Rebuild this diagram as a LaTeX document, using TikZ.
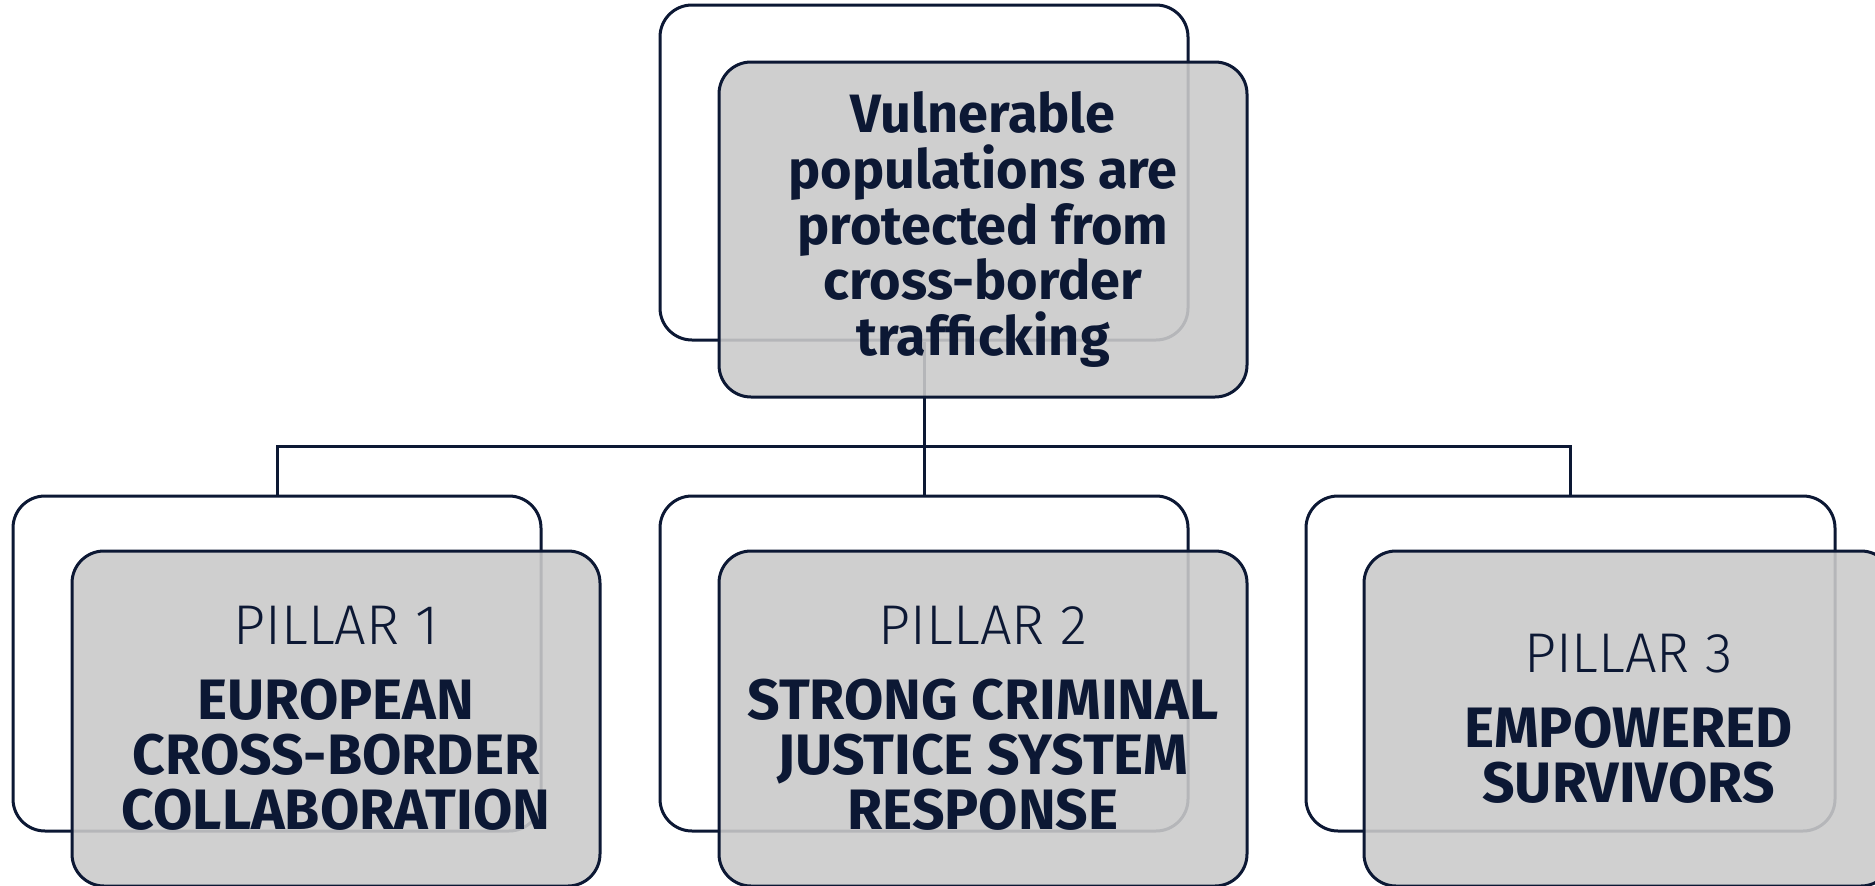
\documentclass[tikz,border=0pt]{standalone}
\usepackage{fontspec}
\setmainfont{Fira Sans}
\newfontfamily\lightfont{Fira Sans Light}
\definecolor{navy}{RGB}{12,24,52}
\definecolor{boxgrey}{RGB}{202,202,202}
\begin{document}
\begin{tikzpicture}[x=1pt,y=-1pt,
  backbox/.style={draw=navy, line width=3pt, rounded corners=32pt, fill=white,
    minimum width=528pt, minimum height=335pt, inner sep=0pt},
  frontbox/.style={draw=navy, line width=3pt, rounded corners=32pt, fill=boxgrey, fill opacity=0.89,
    text opacity=1, minimum width=528pt, minimum height=335pt, inner sep=0pt,
    align=center, text=navy, font=\fontsize{57}{55}\selectfont\bfseries},
  conn/.style={draw=navy, line width=3pt}
]
\newcommand\pillarlabel[1]{\fontsize{56}{55}\selectfont\mdseries\lightfont #1}
\useasboundingbox (0,0) rectangle (1875,886);
% back boxes
\node[backbox] (tback) at (924,172.5) {};
\node[backbox] (p1back) at (277,663.5) {};
\node[backbox] (p2back) at (924,663.5) {};
\node[backbox, minimum width=529pt] (p3back) at (1570.5,663.5) {};
% connectors
\coordinate (hl) at (0,446);
\draw[conn] (tback.south) -- (p2back.north);
\draw[conn] (p1back.north) |- (p3back.north |- hl) -- (p3back.north);
% front boxes
\node[frontbox, font=\fontsize{54}{55.6}\selectfont\bfseries] (tfront) at (983,229.5)
  {Vulnerable\\populations are\\protected from\\cross-border\\trafficking};
\node[frontbox] (p1front) at (336,718.5)
  {\pillarlabel{PILLAR 1}\\[20pt]EUROPEAN\\CROSS-BORDER\\COLLABORATION};
\node[frontbox] (p2front) at (983,718.5)
  {\pillarlabel{PILLAR 2}\\[20pt]STRONG CRIMINAL\\JUSTICE SYSTEM\\RESPONSE};
\node[frontbox, minimum width=529pt] (p3front) at (1628.5,718.5)
  {\pillarlabel{PILLAR 3}\\[20pt]EMPOWERED\\SURVIVORS};
\end{tikzpicture}
\end{document}
